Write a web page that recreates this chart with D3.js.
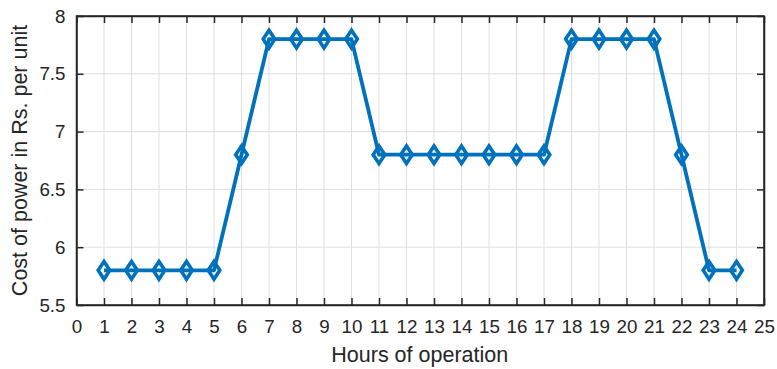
<!DOCTYPE html>
<html><head><meta charset="utf-8">
<script src="https://cdn.jsdelivr.net/npm/d3@7"></script>
<style>body{margin:0;background:#fff}svg{display:block;font-family:Arial,"Liberation Sans",sans-serif}</style>
</head><body><svg id="c" width="777" height="369"></svg>
<script>
const hours = [1,2,3,4,5,6,7,8,9,10,11,12,13,14,15,16,17,18,19,20,21,22,23,24];
const cost = [5.8,5.8,5.8,5.8,5.8,6.8,7.8,7.8,7.8,7.8,6.8,6.8,6.8,6.8,6.8,6.8,6.8,7.8,7.8,7.8,7.8,6.8,5.8,5.8];
const xTicks = d3.range(0,26);
const yTicks = [5.5,6,6.5,7,7.5,8];

const svg = d3.select("#c");
const L=76.5, R=764, T=16, B=305;
const x = d3.scaleLinear().domain([0,25]).range([L,R]);
const y = d3.scaleLinear().domain([5.5,8]).range([B,T]);
const ink = "#262626";

// grid
const g = svg.append("g");
g.selectAll(".vx").data(xTicks).join("line")
  .attr("x1",d=>x(d)).attr("x2",d=>x(d)).attr("y1",T).attr("y2",B)
  .attr("stroke","#dfdfdf").attr("stroke-width",1);
g.selectAll(".hy").data(yTicks).join("line")
  .attr("x1",L).attr("x2",R).attr("y1",d=>y(d)).attr("y2",d=>y(d))
  .attr("stroke","#dfdfdf").attr("stroke-width",1);

// axes
const tl = 7;
const xa = svg.append("g").attr("transform",`translate(0,${B})`)
  .call(d3.axisBottom(x).tickValues(xTicks).tickFormat(d3.format("d")).tickSizeInner(-tl).tickSizeOuter(0).tickPadding(15));
const xt = svg.append("g").attr("transform",`translate(0,${T})`)
  .call(d3.axisTop(x).tickValues(xTicks).tickFormat("").tickSizeInner(-tl).tickSizeOuter(0));
const ya = svg.append("g").attr("transform",`translate(${L},0)`)
  .call(d3.axisLeft(y).tickValues(yTicks).tickFormat(d=>String(d)).tickSizeInner(-tl).tickSizeOuter(0).tickPadding(11));
const yr = svg.append("g").attr("transform",`translate(${R},0)`)
  .call(d3.axisRight(y).tickValues(yTicks).tickFormat("").tickSizeInner(-tl).tickSizeOuter(0));
[xa,xt,ya,yr].forEach(a=>{
  a.selectAll("path").attr("stroke",ink).attr("stroke-width",1.5);
  a.selectAll("line").attr("stroke",ink).attr("stroke-width",1.5);
  a.selectAll("text").attr("fill",ink).attr("font-size",18.8).attr("font-family","Arial, Liberation Sans, sans-serif");
});
xa.selectAll("text").attr("dy","0.71em");

// box frame
svg.append("rect").attr("x",L).attr("y",T).attr("width",R-L).attr("height",B-T)
  .attr("fill","none").attr("stroke",ink).attr("stroke-width",1.5);

// series
const blue = "#0072BD";
const line = d3.line().x((d,i)=>x(hours[i])).y(d=>y(d));
svg.append("path").datum(cost).attr("d",line)
  .attr("fill","none").attr("stroke",blue).attr("stroke-width",3.8).attr("stroke-linejoin","round");
const dw=5.8, dh=8.8;
svg.selectAll(".mk").data(cost).join("path")
  .attr("d",(d,i)=>{const cx=x(hours[i]),cy=y(d);return `M${cx},${cy-dh}L${cx+dw},${cy}L${cx},${cy+dh}L${cx-dw},${cy}Z`;})
  .attr("fill","none").attr("stroke",blue).attr("stroke-width",3.6);

// labels
svg.append("text").attr("x",(L+R)/2 - 0.5).attr("y",362).attr("text-anchor","middle")
  .attr("font-size",21.5).attr("fill",ink).text("Hours of operation");
svg.append("text").attr("transform",`translate(27,${(T+B)/2}) rotate(-90)`).attr("text-anchor","middle")
  .attr("font-size",21.5).attr("fill",ink).text("Cost of power in Rs. per unit");
</script></body></html>
